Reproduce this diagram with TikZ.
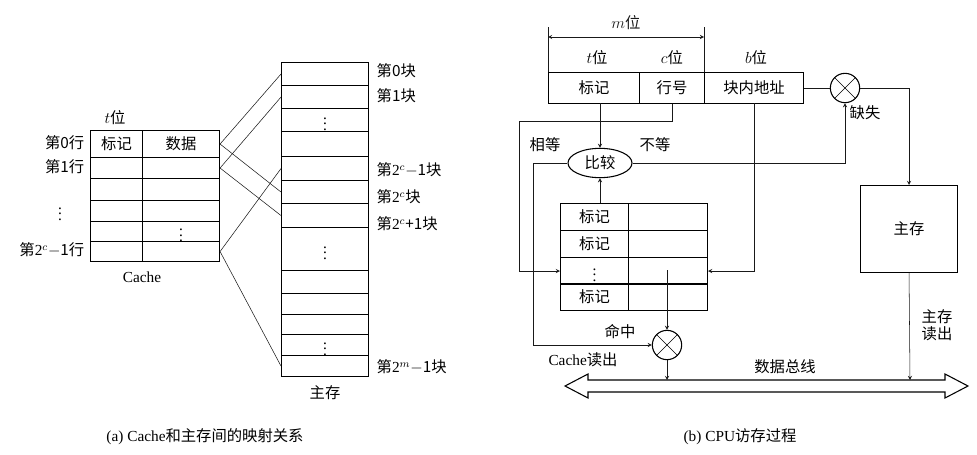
\documentclass[tikz,border=0pt]{standalone}
\usepackage{fontspec}
\setmainfont{Liberation Serif}
\newfontfamily\cjk{Noto Sans CJK SC}
\usetikzlibrary{positioning, shapes.geometric}
\newcommand{\zh}[1]{{\cjk #1}}

\begin{document}
\begin{tikzpicture}[x=0.75pt, y=-0.75pt, >=stealth,
    font=\fontsize{11.5}{13}\selectfont,
    cell/.style={draw, thick, inner sep=0pt, anchor=north west},
    mix/.style={draw, thick, circle, minimum size=22pt, inner sep=0pt},
    wire/.style={draw, thin, gray!20!black}]
  \useasboundingbox (0,0) rectangle (977,454);

  % (a) cache lines
  \foreach \n/\ya/\yb in {0/130/157, 1/157/178, 2/178/200, 3/200/221, 4/221/241, 5/241/261} {
    \node[cell, minimum width=39pt, minimum height={(\yb-\ya)*0.75pt}] (tg\n) at (90,\ya) {};
    \node[cell, minimum width=57.75pt, minimum height={(\yb-\ya)*0.75pt}] (dt\n) at (142,\ya) {};
  }
  \node at (tg0) {\zh{标记}};
  \node at (dt0) {\zh{数据}};
  \node at (dt4) {$\vdots$};
  \node (tbit) at (115,118) {$t$\zh{位}};
  \node[left] (l0) at (89,143) {\zh{第0行}};
  \node[left] (l1) at (89,167) {\zh{第1行}};
  \node (ld) at (60,210) {$\vdots$};
  \node[left] (l2) at (89,250) {\zh{第}2$^c$\zh{$-$1行}};
  \node (cname) at (142,277) {Cache};

  % (a) main memory blocks
  \foreach \n/\ya/\yb in {1/62/85, 2/85/108, 3/108/131, 4/131/156, 5/156/180, 6/180/203, 7/203/227,
      8/227/270, 9/270/293, 10/293/314, 11/314/334, 12/334/355, 13/355/376} {
    \node[cell, minimum width=65.25pt, minimum height={(\yb-\ya)*0.75pt}] (mb\n) at (281,\ya) {};
  }
  \node at (mb3) {$\vdots$};
  \node at (mb8) {$\vdots$};
  \node at (mb12) {$\vdots$};
  \node[right] at (372,71) {\zh{第0块}};
  \node[right] at (372,96) {\zh{第1块}};
  \node[right] at (372,170) {\zh{第}2$^c$\zh{$-$1块}};
  \node[right] at (372,197) {\zh{第}2$^c$\zh{块}};
  \node[right] at (372,224) {\zh{第}2$^c$\zh{+1块}};
  \node[right] at (372,367) {\zh{第}2$^m$\zh{$-$1块}};
  \node (mname) at (325,393) {\zh{主存}};

  \draw[wire] (dt0.east) -- (mb1.west);
  \draw[wire] (dt0.east) -- (mb6.west);
  \draw[wire] (dt1.east) -- (mb2.west);
  \draw[wire] (dt1.east) -- (mb7.west);
  \draw[wire] (dt5.east) -- (mb5.west);
  \draw[wire] (dt5.east) -- (mb13.west);

  % (b) address fields
  \node[cell, minimum width=68.25pt, minimum height=23.25pt] (atag) at (548,72) {};
  \node[cell, minimum width=48.75pt, minimum height=23.25pt] (aline) at (639,72) {};
  \node[cell, minimum width=74.25pt, minimum height=23.25pt] (aoff) at (704,72) {};
  \node at (atag) {\zh{标记}};
  \node at (aline) {\zh{行号}};
  \node at (aoff) {\zh{块内地址}};
  \node at (597,58) {$t$\zh{位}};
  \node at (672,58) {$c$\zh{位}};
  \node at (756,58) {$b$\zh{位}};
  \coordinate (mL) at (548,37);
  \coordinate (mR) at (704,37);
  \draw[wire] (548,27) -- (atag.north west);
  \draw[wire] (704,27) -- (aoff.north west);
  \draw[wire, <->] (mL) -- node[above=2pt] {$m$\zh{位}} (mR);

  % (b) compare and tag store
  \node[draw, thick, ellipse, minimum width=48pt, minimum height=22pt, inner sep=0pt] (cmp) at (600,163) {\zh{比较}};
  \foreach \n/\ya in {1/203, 2/230, 3/257, 4/283} {
    \node[cell, minimum width=51pt, minimum height=20.25pt] (st\n) at (560,\ya) {};
    \node[cell, minimum width=59.25pt, minimum height=20.25pt] (sd\n) at (628,\ya) {};
  }
  \node at (st1) {\zh{标记}};
  \node at (st2) {\zh{标记}};
  \node at (st3) {$\vdots$};
  \node at (st4) {\zh{标记}};

  \node[mix] (miss) at (845,88) {};
  \node[mix] (hit) at (667,345) {};
  \foreach \c in {miss, hit} {
    \draw (\c.45) -- (\c.225);
    \draw (\c.135) -- (\c.315);
  }
  \node[draw, thick, minimum width=72.75pt, minimum height=65.25pt, anchor=north west] (mem) at (860,185) {\zh{主存}};

  % (b) data bus
  \coordinate (busL) at (565,386);
  \coordinate (busR) at (968,386);
  \draw[thick] (busL) -- (588,374) -- (588,380) -- (945,380) -- (945,374) -- (busR)
    -- (945,398) -- (945,392) -- (588,392) -- (588,398) -- cycle;
  \node at (785,367) {\zh{数据总线}};

  % (b) connections
  \draw[wire, ->] (600,103) -- (cmp.north);
  \draw[wire, ->] (st1.north -| cmp) -- (cmp.south);
  \draw[wire, ->] (aline.south) |- (519,121) |- (st3.west);
  \draw[wire, ->] (754,103) |- (sd3.east);
  \draw[wire, ->] (cmp.west) -| (533,345) -- (hit.west);
  \draw[wire, ->] (cmp.east) -| (miss.south);
  \draw[wire] (aoff.east |- miss) -- (miss.west);
  \draw[wire, ->] (miss.east) -| (mem.north);
  \draw[wire, ->] (667,270) -- (hit.north);
  \draw[wire, ->] (hit.south) -- (667,380);
  \draw[wire, ->] (mem.south) -- (910,380);

  \node at (545,145) {\zh{相等}};
  \node at (655,145) {\zh{不等}};
  \node at (865,113) {\zh{缺失}};
  \node at (620,332) {\zh{命中}};
  \node at (583,360) {Cache\zh{读出}};
  \node[align=center] at (937,325) {\zh{主存}\\\zh{读出}};

  % captions
  \node at (205,437) {(a) Cache\zh{和主存间的映射关系}};
  \node at (740,437) {(b) CPU\zh{访存过程}};
\end{tikzpicture}
\end{document}
